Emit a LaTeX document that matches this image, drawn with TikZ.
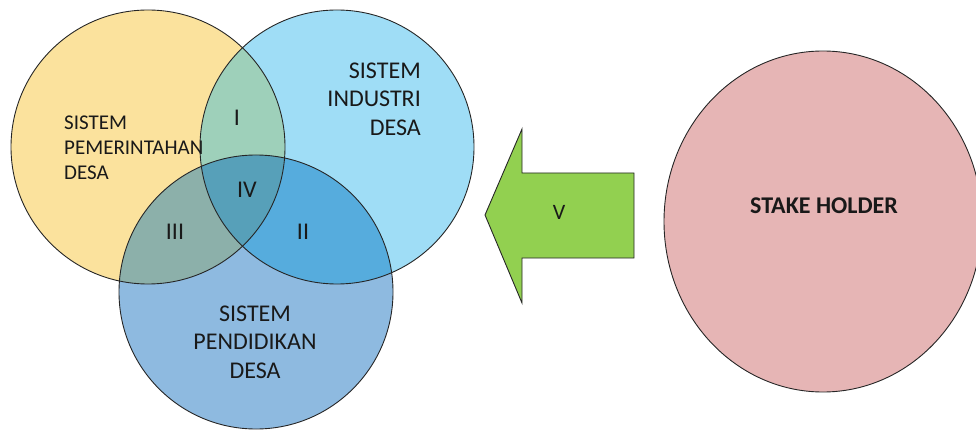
\documentclass[tikz,border=0pt]{standalone}
\usepackage{fontspec}
\setmainfont{Carlito}
\begin{document}
\begin{tikzpicture}[x=1pt,y=-1pt,
  outline/.style={draw=black!85,line width=0.9pt},
  lbl/.style={inner sep=0pt,text=black!90},
  big/.style={font=\fontsize{24}{28.5}\selectfont},
  small/.style={font=\fontsize{21}{25}\selectfont}]
\definecolor{cyel}{HTML}{FBE29D}
\definecolor{clb}{HTML}{9FDDF6}
\definecolor{cdb}{HTML}{8EBAE0}
\definecolor{cI}{HTML}{9ED0BA}
\definecolor{cII}{HTML}{56ACDD}
\definecolor{cIII}{HTML}{8CB0AA}
\definecolor{cIV}{HTML}{57A0B9}
\definecolor{cpink}{HTML}{E6B5B5}
\definecolor{cgreen}{HTML}{92D050}
\useasboundingbox (0,0) rectangle (976,430);
\def\Ya{(148,147) circle (137)}
\def\Lb{(337,147) circle (137)}
\def\Db{(256,292) circle (137)}
% base fills
\fill[cyel] \Ya;
\fill[clb] \Lb;
\fill[cdb] \Db;
% overlaps
\begin{scope}\clip \Ya; \fill[cI] \Lb; \end{scope}
\begin{scope}\clip \Ya; \fill[cIII] \Db; \end{scope}
\begin{scope}\clip \Lb; \fill[cII] \Db; \end{scope}
\begin{scope}\clip \Ya; \clip \Lb; \fill[cIV] \Db; \end{scope}
% outlines
\draw[outline] \Ya;
\draw[outline] \Lb;
\draw[outline] \Db;
% texts
\node[lbl,small,align=left,anchor=west] (gov) at (64,148) {SISTEM\\PEMERINTAHAN\\DESA};
\node[lbl,big,align=right,anchor=east] (ind) at (421,99) {SISTEM\\INDUSTRI\\DESA};
\node[lbl,big,align=center] (edu) at (255,342) {SISTEM\\PENDIDIKAN\\DESA};
\node[lbl,big] (r1) at (237,118) {I};
\node[lbl,big] (r4) at (247,190) {IV};
\node[lbl,big] (r3) at (175,232) {III};
\node[lbl,big] (r2) at (303,232) {II};
% arrow
\draw[outline,fill=cgreen,line join=miter] (485,215) -- (522,129) -- (522,173) -- (634,173) -- (634,258) -- (522,258) -- (522,303) -- cycle;
\node[lbl,font=\fontsize{22}{26}\selectfont] (v) at (559,212) {V};
% stakeholder
\begin{scope}
\clip (0,0) rectangle (976,430);
\draw[outline,fill=cpink] (823,221.5) ellipse [x radius=159, y radius=170.5];
\end{scope}
\node[lbl,font=\fontsize{24}{28}\selectfont\bfseries] (sh) at (824,206) {STAKE HOLDER};
\end{tikzpicture}
\end{document}
